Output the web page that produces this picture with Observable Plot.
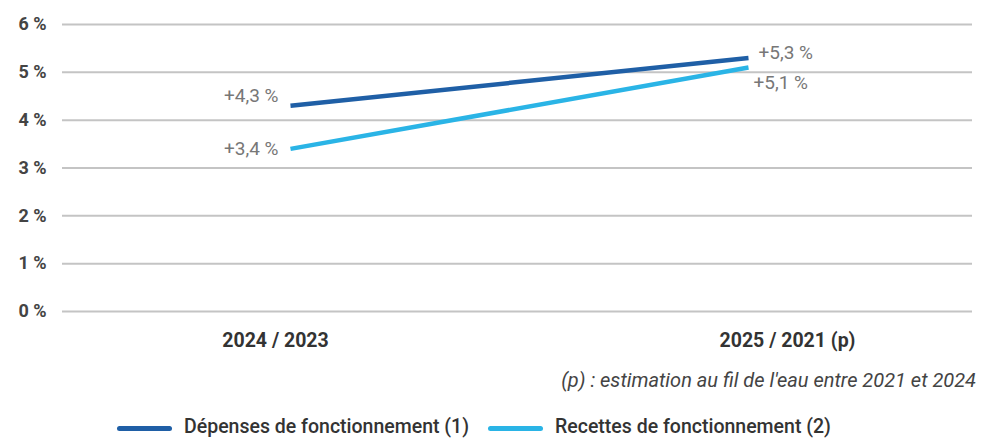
<!DOCTYPE html>
<html>
<head>
<meta charset="utf-8">
<script src="https://cdn.jsdelivr.net/npm/d3@7"></script>
<script src="https://cdn.jsdelivr.net/npm/@observablehq/plot@0.6"></script>
<style>
  html, body { margin: 0; padding: 0; background: #fff; }
  body { position: relative; width: 981px; height: 440px; overflow: hidden; font-family: Roboto, "Noto Sans", sans-serif; }
  #caption { position: absolute; top: 368px; right: 5px; font-style: italic; font-size: 20px; line-height: 24px; color: #444; white-space: nowrap; }
  #legend { position: absolute; top: 415px; left: 0; width: 981px; height: 23px; font-size: 19.5px; line-height: 23px; font-weight: 500; color: #333; }
  .item { position: absolute; top: 0; height: 23px; display: flex; align-items: center; white-space: nowrap; }
  .sw { display: inline-block; width: 55px; height: 5px; border-radius: 2.5px; margin-right: 12px; margin-top: 3px; }
</style>
</head>
<body>
<div id="chart"></div>
<div id="caption">(p) : estimation au fil de l'eau entre 2021 et 2024</div>
<div id="legend"></div>
<script>
const categories = ["2024 / 2023", "2025 / 2021 (p)"];
const seriesNames = ["Dépenses de fonctionnement (1)", "Recettes de fonctionnement (2)"];
const depenses = [4.3, 5.3];
const recettes = [3.4, 5.1];
const valueLabels = {
  depenses: ["+4,3 %", "+5,3 %"],
  recettes: ["+3,4 %", "+5,1 %"]
};
const yTicks = [0, 1, 2, 3, 4, 5, 6];
const colors = ["#1f5fa6", "#2ab4e6"];

const rows = [];
categories.forEach((c, i) => {
  rows.push({i, series: seriesNames[0], value: depenses[i], label: valueLabels.depenses[i], key: "d"});
  rows.push({i, series: seriesNames[1], value: recettes[i], label: valueLabels.recettes[i], key: "r"});
});

const labelStyle = {fill: "#777", fontSize: 19};

const chart = Plot.plot({
  width: 981,
  height: 360,
  marginTop: 24,
  marginBottom: 49,
  marginLeft: 62,
  marginRight: 9,
  style: {fontFamily: "Roboto, 'Noto Sans', sans-serif", background: "#fff"},
  x: {domain: [0, 1], range: [290, 748]},
  y: {domain: [0, 6]},
  color: {domain: seriesNames, range: colors},
  marks: [
    Plot.ruleY(yTicks, {stroke: "#c4c4c4", strokeWidth: 2}),
    Plot.axisY({ticks: yTicks, tickFormat: d => d + " %", tickSize: 0, tickPadding: 16, fontSize: 18, fontWeight: "bold", fill: "#444", label: null}),
    Plot.axisX({ticks: [0], tickFormat: i => categories[i], tickSize: 0, tickPadding: 22, dx: -15, fontSize: 19.5, fontWeight: "bold", fill: "#333", label: null}),
    Plot.axisX({ticks: [1], tickFormat: i => categories[i], tickSize: 0, tickPadding: 22, dx: 39, fontSize: 19.5, fontWeight: "bold", fill: "#333", label: null}),
    Plot.line(rows, {x: "i", y: "value", z: "series", stroke: "series", strokeWidth: 4.5, strokeLinecap: "butt"}),
    Plot.text(rows.filter(r => r.i === 0 && r.key === "d"), {x: "i", y: "value", text: "label", textAnchor: "end", dx: -12, dy: -10, ...labelStyle}),
    Plot.text(rows.filter(r => r.i === 0 && r.key === "r"), {x: "i", y: "value", text: "label", textAnchor: "end", dx: -12, dy: 0, ...labelStyle}),
    Plot.text(rows.filter(r => r.i === 1 && r.key === "d"), {x: "i", y: "value", text: "label", textAnchor: "start", dx: 10, dy: -5, ...labelStyle}),
    Plot.text(rows.filter(r => r.i === 1 && r.key === "r"), {x: "i", y: "value", text: "label", textAnchor: "start", dx: 5, dy: 15, ...labelStyle})
  ]
});
document.getElementById("chart").appendChild(chart);

const legend = document.getElementById("legend");
const legendLeft = [117, 488];
seriesNames.forEach((s, k) => {
  const item = document.createElement("span");
  item.className = "item";
  item.style.left = legendLeft[k] + "px";
  const sw = document.createElement("span");
  sw.className = "sw";
  sw.style.background = colors[k];
  item.appendChild(sw);
  item.appendChild(document.createTextNode(s));
  legend.appendChild(item);
});
</script>
</body>
</html>
